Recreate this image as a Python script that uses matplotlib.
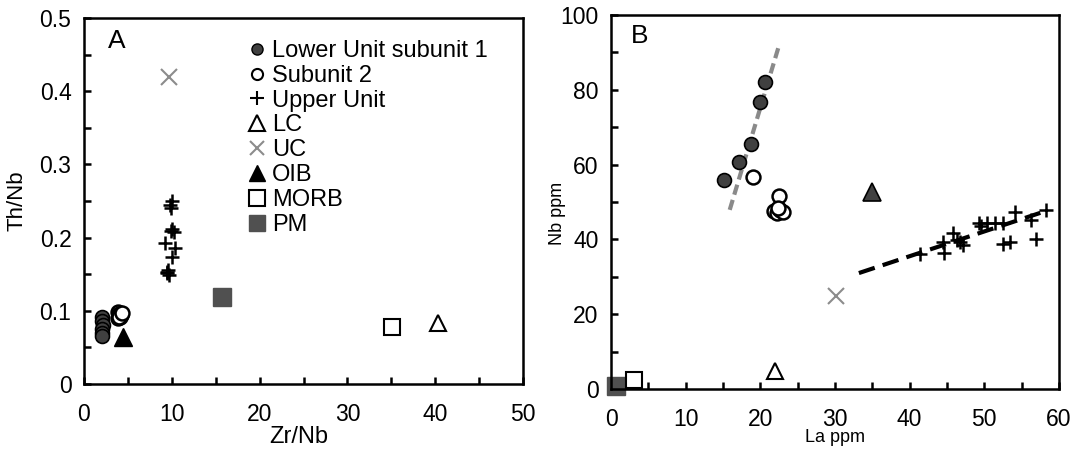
import matplotlib
matplotlib.use("Agg")
import matplotlib.pyplot as plt
from matplotlib.lines import Line2D
from matplotlib.ticker import MultipleLocator

plt.rcParams['font.family'] = ['Liberation Sans', 'DejaVu Sans']

# ---- Panel A: Th/Nb vs Zr/Nb ----
a_lower_x = [2.0, 2.1, 2.2, 2.0, 2.1, 2.1]
a_lower_y = [0.091, 0.086, 0.081, 0.075, 0.070, 0.066]
a_sub2_x = [3.9, 4.0, 4.2, 4.1, 3.9, 4.0, 4.3]
a_sub2_y = [0.098, 0.096, 0.094, 0.092, 0.090, 0.091, 0.097]
a_upper_x = [9.8, 10.0, 9.9, 9.9, 10.2, 10.0, 9.2, 10.4, 10.0, 9.5, 9.7, 9.4, 9.6]
a_upper_y = [0.245, 0.250, 0.240, 0.209, 0.207, 0.212, 0.193, 0.186, 0.174, 0.153, 0.149, 0.151, 0.156]
a_lc = (40.3, 0.083)
a_uc = (9.7, 0.42)
a_oib = (4.4, 0.064)
a_morb = (35.1, 0.078)
a_pm = (15.7, 0.119)

# ---- Panel B: Nb ppm vs La ppm ----
b_lower_x = [15.1, 17.1, 18.7, 19.9, 20.6]
b_lower_y = [55.9, 60.7, 65.5, 76.7, 82.0]
b_sub2_x = [19.0, 22.5, 21.8, 22.2, 22.6, 23.0, 22.4]
b_sub2_y = [56.7, 51.6, 47.5, 47.0, 47.8, 47.3, 48.3]
b_upper_x = [41.4, 44.5, 44.6, 45.8, 46.3, 46.8, 47.1, 49.3, 50.3, 51.4, 52.5,
             52.5, 53.5, 54.1, 56.3, 56.9, 58.2, 49.6]
b_upper_y = [36.1, 39.4, 36.4, 41.8, 39.8, 39.2, 38.5, 44.3, 44.3, 44.3, 44.3,
             38.8, 39.4, 47.4, 45.2, 40.1, 47.9, 43.5]
b_lc = (22.0, 4.8)
b_uc = (30.1, 24.9)
b_oib = (35.0, 52.7)
b_morb = (3.1, 2.4)
b_pm = (0.7, 0.7)
# trend lines (endpoints)
b_lower_trend_x = [15.9, 22.6]
b_lower_trend_y = [47.9, 92.5]
b_upper_trend_x = [33.2, 57.5]
b_upper_trend_y = [31.0, 47.1]

legend_labels = ["Lower Unit subunit 1", "Subunit 2", "Upper Unit", "LC", "UC",
                 "OIB", "MORB", "PM"]

W, H = 1076, 451
fig = plt.figure(figsize=(W / 100, H / 100), dpi=100)
axA = fig.add_axes([84 / W, 1 - 384 / H, (523 - 84) / W, (384 - 18) / H])
axB = fig.add_axes([611 / W, 1 - 389 / H, (1059 - 611) / W, (389 - 15) / H])

dark = '#404040'
pmc = '#505050'
grey = '#8c8c8c'

styles = {
    'lower': dict(marker='o', ms=10, mfc=dark, mec='black', mew=1.2, ls='none'),
    'sub2': dict(marker='o', ms=10, mfc='white', mec='black', mew=1.8, ls='none'),
    'upper': dict(marker='+', ms=10, mec='black', mew=1.8, ls='none'),
    'lc': dict(marker='^', ms=12, mfc='white', mec='black', mew=1.5, ls='none'),
    'uc': dict(marker='x', ms=11, mec=grey, mew=1.5, ls='none'),
    'oib': dict(marker='^', ms=13, mfc='black', mec='black', mew=1.0, ls='none'),
    'morb': dict(marker='s', ms=12, mfc='white', mec='black', mew=1.5, ls='none'),
    'pm': dict(marker='s', ms=13, mfc=pmc, mec=pmc, mew=1.0, ls='none'),
}

# Panel A
axA.plot(a_pm[0], a_pm[1], **styles['pm'])
axA.plot(a_morb[0], a_morb[1], **styles['morb'])
axA.plot(a_lc[0], a_lc[1], **styles['lc'])
axA.plot(a_uc[0], a_uc[1], **styles['uc'])
axA.plot(a_oib[0], a_oib[1], **styles['oib'])
axA.plot(a_lower_x, a_lower_y, **styles['lower'])
axA.plot(a_sub2_x, a_sub2_y, **styles['sub2'])
axA.plot(a_upper_x, a_upper_y, **styles['upper'])

axA.set_xlim(0, 50)
axA.set_ylim(0, 0.5)
axA.xaxis.set_major_locator(MultipleLocator(10))
axA.xaxis.set_minor_locator(MultipleLocator(5))
axA.yaxis.set_minor_locator(MultipleLocator(0.05))
axA.set_yticks([0, 0.1, 0.2, 0.3, 0.4, 0.5])
axA.set_yticklabels(['0', '0.1', '0.2', '0.3', '0.4', '0.5'])
axA.set_xlabel('Zr/Nb', fontsize=17)
axA.set_ylabel('Th/Nb', fontsize=16)
axA.xaxis.set_label_coords(0.49, -0.115)
axA.yaxis.set_label_coords(-0.128, 0.5)
axA.text(0.055, 0.97, 'A', transform=axA.transAxes, fontsize=19, va='top', ha='left')

handles = [
    Line2D([], [], marker='o', ms=8, mfc=dark, mec='black', mew=1, ls='none'),
    Line2D([], [], marker='o', ms=8, mfc='white', mec='black', mew=1.5, ls='none'),
    Line2D([], [], marker='+', ms=10, mec='black', mew=1.5, ls='none'),
    Line2D([], [], marker='^', ms=11, mfc='white', mec='black', mew=1.5, ls='none'),
    Line2D([], [], marker='x', ms=10, mec=grey, mew=1.5, ls='none'),
    Line2D([], [], marker='^', ms=11, mfc='black', mec='black', ls='none'),
    Line2D([], [], marker='s', ms=11, mfc='white', mec='black', mew=1.5, ls='none'),
    Line2D([], [], marker='s', ms=12, mfc=pmc, mec=pmc, ls='none'),
]
axA.legend(handles, legend_labels, loc='upper left', bbox_to_anchor=(0.375, 0.94),
           frameon=False, fontsize=17, handlelength=0.75, handletextpad=0.25,
           labelspacing=0.12, borderaxespad=0, borderpad=0)

# Panel B
axB.plot(b_lower_trend_x, b_lower_trend_y, color='#8a8a8a', lw=3, ls=(0, (2.5, 1.3)))
axB.plot(b_upper_trend_x, b_upper_trend_y, color='black', lw=3, ls=(0, (4, 2)))
axB.plot(b_pm[0], b_pm[1], **styles['pm'])
axB.plot(b_morb[0], b_morb[1], **styles['morb'])
axB.plot(b_lc[0], b_lc[1], **styles['lc'])
axB.plot(b_uc[0], b_uc[1], **styles['uc'])
axB.plot(b_oib[0], b_oib[1], marker='^', ms=13, mfc=dark, mec='black', mew=1.2, ls='none')
axB.plot(b_lower_x, b_lower_y, **styles['lower'])
axB.plot(b_sub2_x, b_sub2_y, **styles['sub2'])
axB.plot(b_upper_x, b_upper_y, **styles['upper'])

axB.set_xlim(0, 60)
axB.set_ylim(0, 100)
axB.xaxis.set_major_locator(MultipleLocator(10))
axB.xaxis.set_minor_locator(MultipleLocator(5))
axB.yaxis.set_major_locator(MultipleLocator(20))
axB.yaxis.set_minor_locator(MultipleLocator(10))
axB.set_xlabel('La ppm', fontsize=13)
axB.set_ylabel('Nb ppm', fontsize=13)
axB.xaxis.set_label_coords(0.5, -0.108)
axB.yaxis.set_label_coords(-0.1, 0.47)
axB.text(0.045, 0.975, 'B', transform=axB.transAxes, fontsize=19, va='top', ha='left')

for ax in (axA, axB):
    for s in ax.spines.values():
        s.set_linewidth(1.8)
        s.set_color('black')
    ax.tick_params(which='both', direction='in', length=5, width=1.8,
                   labelsize=16.5)
    ax.tick_params(axis='x', which='both', pad=14)
    ax.tick_params(axis='y', which='both', pad=9)
    for ln in ax.lines:
        ln.set_clip_on(False)

fig.savefig('out.png', dpi=100)
